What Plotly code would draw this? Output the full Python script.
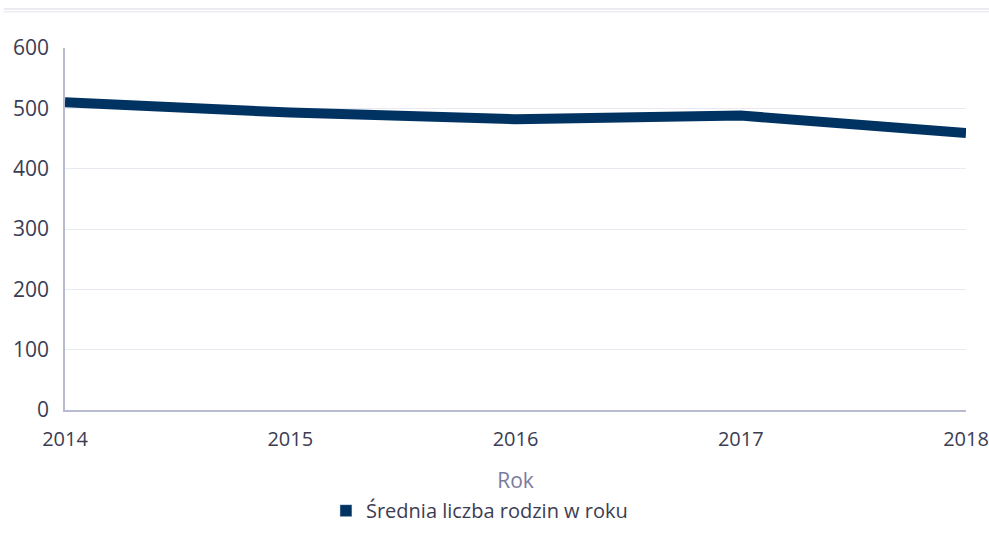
import plotly.graph_objects as go

years = [2014, 2015, 2016, 2017, 2018]
families = [510, 493, 482, 488, 459]
series_name = "Średnia liczba rodzin w roku"
y_ticks = [0, 100, 200, 300, 400, 500, 600]

NAVY = "#003362"
TEXT = "#3c3d52"

fig = go.Figure()
fig.add_trace(go.Scatter(
    x=years, y=families, mode="lines",
    line=dict(color=NAVY, width=10),
    showlegend=False, hoverinfo="x+y",
))
# legend entry drawn as a filled block
fig.add_trace(go.Bar(
    x=[None], y=[None], name=series_name,
    marker=dict(color=NAVY), showlegend=True,
))

fig.update_layout(
    width=989, height=542,
    margin=dict(l=65, r=23, t=48, b=129),
    paper_bgcolor="white", plot_bgcolor="white",
    font=dict(family="Open Sans, Noto Sans, sans-serif", size=20, color=TEXT),
    showlegend=True,
    legend=dict(orientation="h", x=0.46, xanchor="center", y=-0.278, yanchor="middle",
                font=dict(size=20, color=TEXT), itemwidth=30),
    shapes=[
        dict(type="line", xref="paper", yref="paper", x0=-0.068, x1=1.03, y0=1.108, y1=1.108,
             line=dict(color="#e4e4ee", width=1.5)),
        dict(type="line", xref="paper", yref="paper", x0=-0.068, x1=1.03, y0=1.1, y1=1.1,
             line=dict(color="#ececf3", width=1.5)),
    ],
)

fig.update_xaxes(
    range=[2014, 2018], tickvals=years, ticktext=[str(y) for y in years],
    showgrid=False, showline=True, linecolor="#b9bbd2", linewidth=1.5,
    ticks="", ticklabelstandoff=10, automargin=False,
    title=dict(text="Rok", font=dict(size=21, color="#7a7ca0"), standoff=23),
    tickfont=dict(size=20, color=TEXT), zeroline=False,
)
fig.update_yaxes(
    range=[0, 600], tickvals=y_ticks,
    showgrid=True, gridcolor="#e9e9f1", gridwidth=1,
    showline=True, linecolor="#b9bbd2", linewidth=1.5,
    ticks="", ticklabelstandoff=10, automargin=False,
    tickfont=dict(size=21, color=TEXT), zeroline=False,
)

fig.write_html("out.html")
